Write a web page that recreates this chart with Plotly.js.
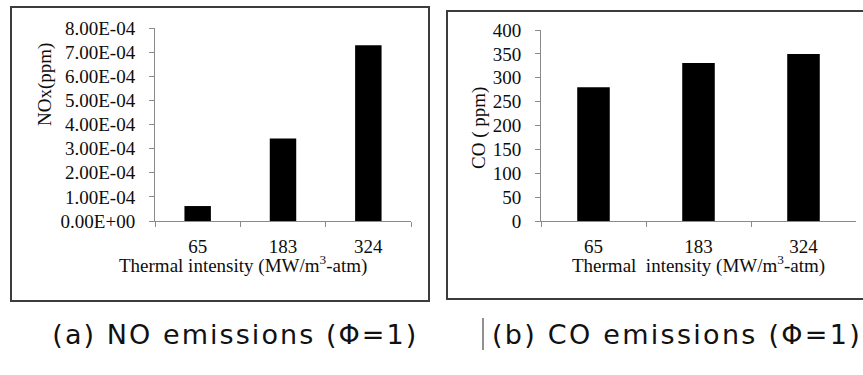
<!DOCTYPE html>
<html>
<head>
<meta charset="utf-8">
<script src="https://cdn.plot.ly/plotly-3.0.1.min.js"></script>
<style>
  html, body { margin: 0; padding: 0; background: #fff; }
  #chart { width: 863px; height: 375px; }
</style>
</head>
<body>
<div id="chart"></div>
<script>
// Thermal intensity categories (MW/m3-atm)
const categories = ["65", "183", "324"];

// NOx emissions (ppm) at phi = 1
const noxValues = [6.2e-5, 3.42e-4, 7.29e-4];
const noxTickVals = [0, 1e-4, 2e-4, 3e-4, 4e-4, 5e-4, 6e-4, 7e-4, 8e-4];
const noxTickText = ["0.00E+00", "1.00E-04", "2.00E-04", "3.00E-04", "4.00E-04",
                     "5.00E-04", "6.00E-04", "7.00E-04", "8.00E-04"];

// CO emissions (ppm) at phi = 1
const coValues = [280, 331, 350];
const coTickVals = [0, 50, 100, 150, 200, 250, 300, 350, 400];

// Text
const noxYTitle = "NOx(ppm)";
const coYTitle = "CO ( ppm)";
const noxXTitle = "Thermal intensity (MW/m<sup>3</sup>-atm)";
const coXTitle = "Thermal\u00a0 intensity (MW/m<sup>3</sup>-atm)";
const captionA = "(a) NO emissions (\u03A6=1)";
const captionB = "(b) CO emissions (\u03A6=1)";

const W = 863, H = 375;
const px = x => x / W;
const py = y => 1 - y / H;

const serif = "Liberation Serif, Times New Roman, serif";
const tickFont = { family: serif, size: 19, color: "#0d0d0d" };
const titleFont = { family: serif, size: 19, color: "#0d0d0d" };
const captionFont = { family: "DejaVu Sans, sans-serif", size: 27, color: "#111" };
const axisGray = "#8a8a8a";

// caption spans (left, right) in pixels
const captionSpans = [[52, 418], [492, 862]];

const traces = [
  { type: "bar", x: categories, y: noxValues, xaxis: "x", yaxis: "y",
    marker: { color: "#000" }, hoverinfo: "x+y" },
  { type: "bar", x: categories, y: coValues, xaxis: "x2", yaxis: "y2",
    marker: { color: "#000" }, hoverinfo: "x+y" }
];

function xAxis(d0, d1, anchor) {
  return {
    domain: [px(d0), px(d1)], anchor: anchor, type: "category",
    showline: true, linecolor: axisGray, linewidth: 1,
    ticks: "outside", tickson: "boundaries", ticklen: 5, tickcolor: axisGray,
    tickfont: tickFont, showgrid: false, zeroline: false,
    ticklabelstandoff: 8, fixedrange: true
  };
}
function yAxis(d0, d1, anchor, range, vals, text) {
  const ax = {
    domain: [py(d1), py(d0)], anchor: anchor, range: range,
    showline: true, linecolor: axisGray, linewidth: 1,
    ticks: "outside", ticklen: 5, tickcolor: axisGray,
    tickmode: "array", tickvals: vals,
    tickfont: tickFont, showgrid: false, zeroline: false,
    ticklabelstandoff: 10, fixedrange: true
  };
  if (text) ax.ticktext = text;
  return ax;
}

const layout = {
  width: W, height: H,
  margin: { l: 0, r: 0, t: 0, b: 0 },
  paper_bgcolor: "#fff", plot_bgcolor: "#fff",
  showlegend: false, bargap: 0.69,
  xaxis: xAxis(155, 411, "y"),
  yaxis: yAxis(28, 221, "x", [0, 8e-4], noxTickVals, noxTickText),
  xaxis2: xAxis(541, 856, "y2"),
  yaxis2: yAxis(30, 221, "x2", [0, 400], coTickVals, null),
  shapes: [
    { type: "rect", xref: "paper", yref: "paper",
      x0: px(11), x1: px(429), y0: py(301), y1: py(7),
      line: { color: "#3c3c3c", width: 2 } },
    { type: "rect", xref: "paper", yref: "paper",
      x0: px(447), x1: px(875), y0: py(299), y1: py(11),
      line: { color: "#3c3c3c", width: 2 } },
    { type: "line", xref: "paper", yref: "paper",
      x0: px(483), x1: px(483), y0: py(318), y1: py(350),
      line: { color: "#222", width: 1 } }
  ],
  annotations: [
    { text: noxYTitle, xref: "paper", yref: "paper", x: px(45), y: py(85),
      textangle: -90, showarrow: false, xanchor: "center", yanchor: "middle",
      font: titleFont },
    { text: coYTitle, xref: "paper", yref: "paper", x: px(479), y: py(128),
      textangle: -90, showarrow: false, xanchor: "center", yanchor: "middle",
      font: titleFont },
    { text: noxXTitle, xref: "paper", yref: "paper", x: px(243), y: py(264),
      showarrow: false, xanchor: "center", yanchor: "middle", font: titleFont },
    { text: coXTitle, xref: "paper", yref: "paper", x: px(698), y: py(264),
      showarrow: false, xanchor: "center", yanchor: "middle", font: titleFont },
    { text: captionA, xref: "paper", yref: "paper",
      x: px((captionSpans[0][0] + captionSpans[0][1]) / 2), y: py(334),
      showarrow: false, xanchor: "center", yanchor: "middle", font: captionFont },
    { text: captionB, xref: "paper", yref: "paper",
      x: px((captionSpans[1][0] + captionSpans[1][1]) / 2), y: py(334),
      showarrow: false, xanchor: "center", yanchor: "middle", font: captionFont }
  ]
};

Plotly.newPlot("chart", traces, layout, { displayModeBar: false, staticPlot: true })
  .then(gd => {
    // Spread the caption lettering so each caption fills its span
    const caps = [captionA, captionB];
    gd.querySelectorAll(".annotation-text").forEach(t => {
      const i = caps.indexOf(t.textContent);
      if (i < 0) return;
      const target = captionSpans[i][1] - captionSpans[i][0];
      const w = t.getBBox().width;
      const n = t.textContent.length;
      const ls = Math.max(0, (target - w) / n);
      t.style.letterSpacing = ls.toFixed(2) + "px";
    });
  });
</script>
</body>
</html>
